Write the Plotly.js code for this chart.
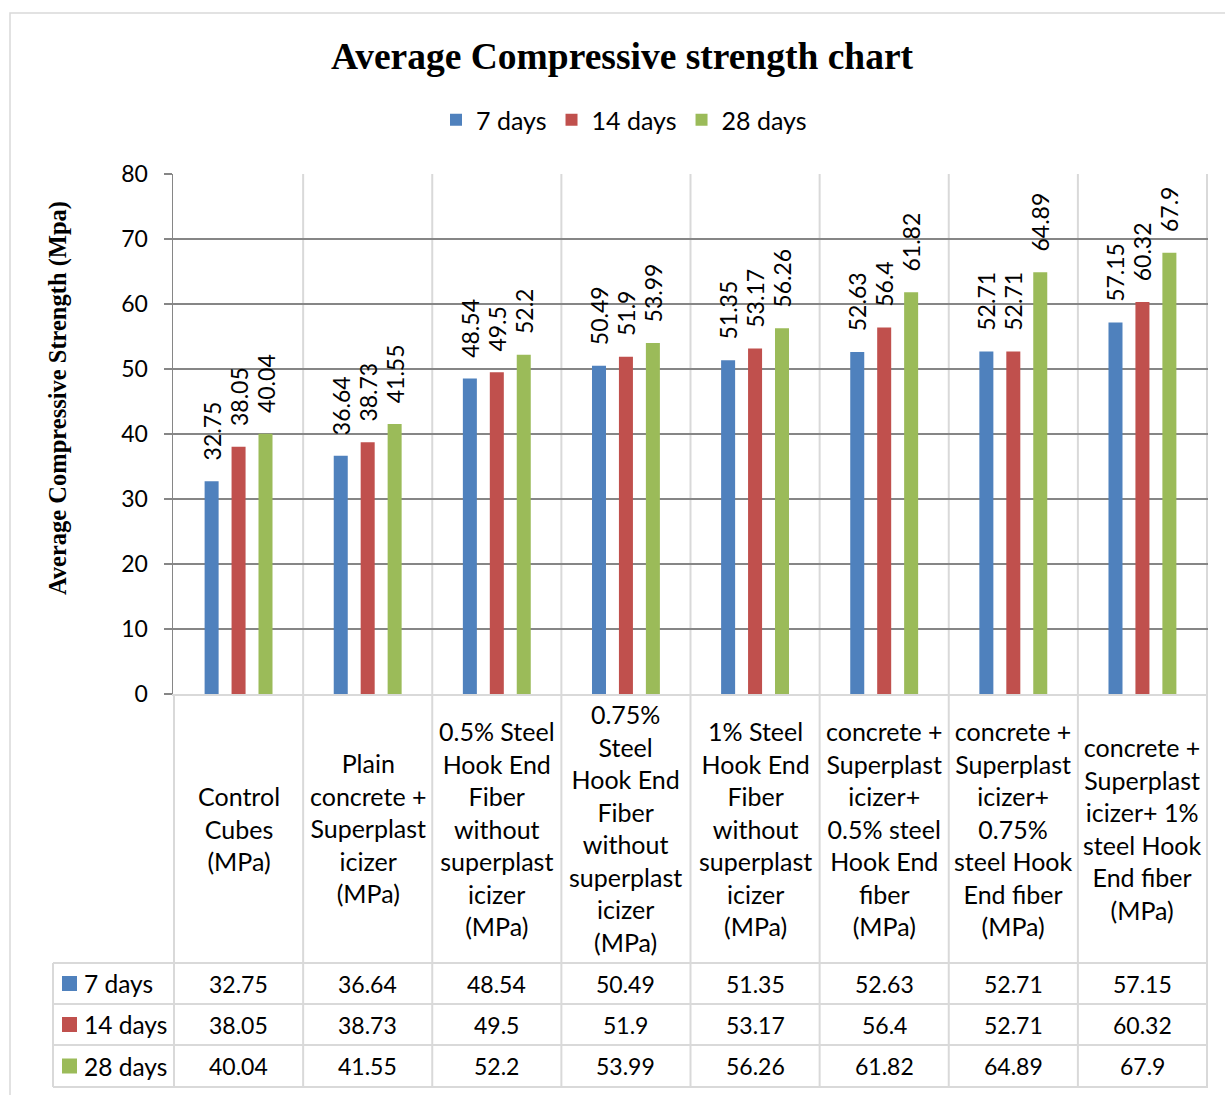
<!DOCTYPE html>
<html>
<head>
<meta charset="utf-8">
<script src="https://cdn.plot.ly/plotly-3.0.1.min.js"></script>
<style>html,body{margin:0;padding:0;background:#fff;}#chart{width:1225px;height:1095px;}</style>
</head>
<body>
<div id="chart"></div>
<script>
var categories = [
  "Control<br>Cubes<br>(MPa)",
  "Plain<br>concrete +<br>Superplast<br>icizer<br>(MPa)",
  "0.5% Steel<br>Hook End<br>Fiber<br>without<br>superplast<br>icizer<br>(MPa)",
  "0.75%<br>Steel<br>Hook End<br>Fiber<br>without<br>superplast<br>icizer<br>(MPa)",
  "1% Steel<br>Hook End<br>Fiber<br>without<br>superplast<br>icizer<br>(MPa)",
  "concrete +<br>Superplast<br>icizer+<br>0.5% steel<br>Hook End<br>fiber<br>(MPa)",
  "concrete +<br>Superplast<br>icizer+<br>0.75%<br>steel Hook<br>End fiber<br>(MPa)",
  "concrete +<br>Superplast<br>icizer+ 1%<br>steel Hook<br>End fiber<br>(MPa)"
];
var seriesNames = ["7 days", "14 days", "28 days"];
var days7  = [32.75, 36.64, 48.54, 50.49, 51.35, 52.63, 52.71, 57.15];
var days14 = [38.05, 38.73, 49.5, 51.9, 53.17, 56.4, 52.71, 60.32];
var days28 = [40.04, 41.55, 52.2, 53.99, 56.26, 61.82, 64.89, 67.9];
var seriesValues = [days7, days14, days28];
var colors = ["#4F81BD", "#C0504D", "#9BBB59"];
var yTickVals = [0, 10, 20, 30, 40, 50, 60, 70, 80];

var FONT = "Lato, 'Open Sans', sans-serif";
var SERIF = "'Liberation Serif', 'DejaVu Serif', serif";
var LIGHT = "#d9d9d9";
var DARK = "#868686";

// layout geometry (pixels)
var W = 1225, H = 1095, L = 173, R = 17, T = 174, B = 401;
var pw = W - L - R, ph = H - T - B;
function py(ypx) { return (H - B - ypx) / ph; }   // pixel y -> paper y
function px(xpx) { return (xpx - L) / pw; }       // pixel x -> paper x

var rowTop = 963, rowH = [41, 41, 42];
var tableBottom = 1087;

var traces = seriesNames.map(function (name, i) {
  return {
    type: "bar",
    name: name,
    x: categories,
    y: seriesValues[i],
    marker: { color: colors[i] },
    texttemplate: "\u00A0\u00A0\u00A0%{y}",
    textposition: "outside",
    textangle: -90,
    constraintext: "none",
    cliponaxis: false,
    textfont: { family: FONT, size: 23, color: "#000" },
    hoverinfo: "skip"
  };
});

var shapes = [];
var annotations = [];

// outer chart border
shapes.push({ type: "rect", xref: "paper", yref: "paper", x0: px(10), x1: px(1240), y0: py(13), y1: py(1110), line: { color: LIGHT, width: 1.5 }, layer: "below" });

// vertical category boundaries (through plot and table)
for (var i = 0; i <= categories.length; i++) {
  shapes.push({ type: "line", xref: "x", yref: "paper", x0: i - 0.5, x1: i - 0.5, y0: (i === 0 ? py(694) : 1), y1: py(tableBottom), line: { color: LIGHT, width: 2 }, layer: "below" });
}
// table horizontal lines
var yLine = rowTop;
var hLines = [rowTop];
for (var r = 0; r < rowH.length; r++) { yLine += rowH[r]; hLines.push(yLine); }
hLines.forEach(function (yy) {
  shapes.push({ type: "line", xref: "paper", yref: "paper", x0: px(53), x1: 1, y0: py(yy), y1: py(yy), line: { color: LIGHT, width: 2 } });
});
// table left edge
shapes.push({ type: "line", xref: "paper", yref: "paper", x0: px(53), x1: px(53), y0: py(rowTop), y1: py(tableBottom), line: { color: LIGHT, width: 2 } });

// category labels
categories.forEach(function (c, j) {
  annotations.push({ xref: "x", yref: "paper", x: c, y: py(828), text: c, showarrow: false, xanchor: "center", yanchor: "middle", align: "center", font: { family: FONT, size: 25, color: "#000" } });
});

// table rows
var yc = rowTop;
seriesNames.forEach(function (name, i) {
  var center = yc + rowH[i] / 2;
  shapes.push({ type: "rect", xref: "paper", yref: "paper", x0: px(62), x1: px(77), y0: py(center - 7.5), y1: py(center + 7.5), fillcolor: colors[i], line: { width: 0 } });
  annotations.push({ xref: "paper", yref: "paper", x: px(82), y: py(center), text: name, showarrow: false, xanchor: "left", yanchor: "middle", font: { family: FONT, size: 24.5, color: "#000" } });
  categories.forEach(function (c, j) {
    annotations.push({ xref: "x", yref: "paper", x: c, y: py(center), text: String(seriesValues[i][j]), showarrow: false, xanchor: "center", yanchor: "middle", font: { family: FONT, size: 23, color: "#000" } });
  });
  yc += rowH[i];
});

// y-axis title
annotations.push({ xref: "paper", yref: "paper", x: px(58), y: py(398), text: "<b>Average Compressive Strength (Mpa)</b>", textangle: -90, showarrow: false, xanchor: "center", yanchor: "middle", font: { family: SERIF, size: 24.5, color: "#000" } });

var layout = {
  width: W, height: H,
  margin: { l: L, r: R, t: T, b: B, pad: 0 },
  paper_bgcolor: "#fff", plot_bgcolor: "#fff",
  title: { text: "<b>Average Compressive strength chart</b>", x: 622 / W, xanchor: "center", xref: "container", y: 1 - 56 / H, yanchor: "middle", yref: "container", font: { family: SERIF, size: 37.5, color: "#000" } },
  barmode: "group",
  bargap: 0.374,
  bargroupgap: 0.48,
  showlegend: true,
  legend: { orientation: "h", x: px(624), xanchor: "center", y: py(120), yanchor: "middle", font: { family: FONT, size: 25, color: "#000" }, itemwidth: 30, traceorder: "normal" },
  xaxis: { type: "category", showticklabels: false, showgrid: false, zeroline: false, showline: true, linecolor: LIGHT, linewidth: 2, ticks: "", fixedrange: true },
  yaxis: { range: [0, 80], tickvals: yTickVals, ticktext: yTickVals.map(String), showgrid: true, gridcolor: DARK, gridwidth: 1.5, zeroline: false, showline: true, linecolor: DARK, linewidth: 1.5, ticks: "outside", ticklen: 8, tickcolor: DARK, tickwidth: 1.5, ticklabelstandoff: 11, tickfont: { family: FONT, size: 23, color: "#000" }, fixedrange: true },
  shapes: shapes,
  annotations: annotations
};

Plotly.newPlot("chart", traces, layout, { staticPlot: true, displayModeBar: false });
</script>
</body>
</html>
